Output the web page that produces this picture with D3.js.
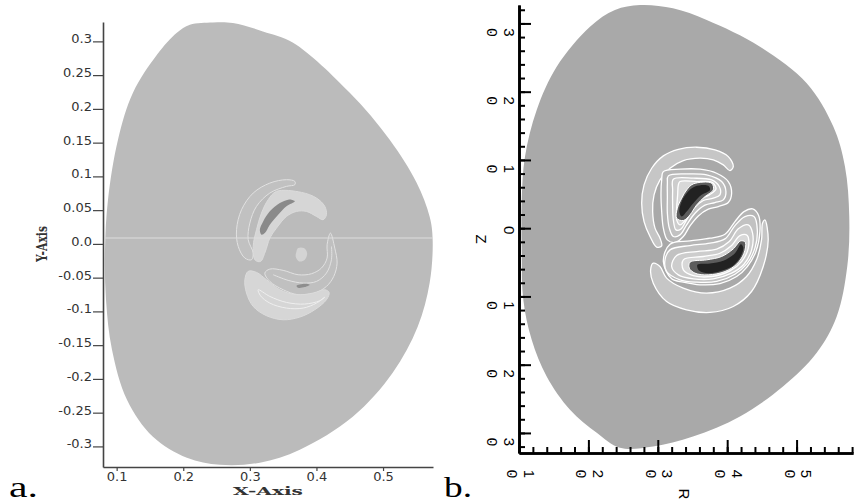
<!DOCTYPE html>
<html><head><meta charset="utf-8">
<script src="https://cdn.jsdelivr.net/npm/d3@7"></script>
<style>body{margin:0;background:#fff}</style></head>
<body>
<svg id="c" width="854" height="504"></svg>
<script>
// ---------- DATA (R/X, Z/Y) ----------
const boundaryA = [[0.2100,0.3247],[0.2445,0.3281],[0.2745,0.3273],[0.3196,0.3148],[0.3649,0.2981],[0.4500,0.2240],[0.5100,0.1544],[0.5504,0.0907],[0.5700,0.0403],[0.5745,0.0062],[0.5700,-0.0575],[0.5520,-0.1227],[0.5145,-0.1908],[0.4545,-0.2560],[0.3750,-0.3049],[0.3150,-0.3241],[0.2550,-0.3271],[0.2055,-0.3167],[0.1545,-0.2856],[0.1155,-0.2307],[0.0930,-0.1567],[0.0840,-0.0826],[0.0825,-0.0086],[0.0870,0.0655],[0.1020,0.1544],[0.1245,0.2240],[0.1605,0.2803],[0.1904,0.3129]];
const boundaryB = [[0.2383,0.3196],[0.2744,0.3269],[0.3219,0.3221],[0.3705,0.3050],[0.4473,0.2659],[0.5146,0.2123],[0.5529,0.1488],[0.5697,0.0902],[0.5759,0.0170],[0.5730,-0.0562],[0.5578,-0.1294],[0.5290,-0.1826],[0.4804,-0.2319],[0.4184,-0.2758],[0.3507,-0.3051],[0.2931,-0.3198],[0.2455,-0.3217],[0.2120,-0.2997],[0.1735,-0.2660],[0.1399,-0.2173],[0.1183,-0.1636],[0.1062,-0.1050],[0.1039,-0.0318],[0.1039,0.0414],[0.1086,0.1048],[0.1255,0.1732],[0.1543,0.2366],[0.2023,0.2952]];

// panel a contour regions
const aOuterC = [[0.3675,0.0926],[0.355,0.0951],[0.330,0.0901],[0.305,0.0753],[0.2875,0.0506],[0.280,0.0210],[0.2825,-0.0037],[0.2925,-0.0210],[0.3025,-0.0235],[0.305,-0.0136],[0.2975,0.0062],[0.300,0.0309],[0.310,0.0556],[0.330,0.0753],[0.355,0.0852],[0.3675,0.0877]];
const aLightUpper = [[0.34,0.0778],[0.3775,0.0763],[0.40,0.0679],[0.4125,0.0556],[0.415,0.0432],[0.41,0.0358],[0.40,0.0407],[0.385,0.0481],[0.37,0.0481],[0.355,0.0407],[0.34,0.0234],[0.33,0.0086],[0.323,-0.012],[0.316,-0.026],[0.308,-0.024],[0.305,-0.0037],[0.31,0.0210],[0.3175,0.0457],[0.3275,0.0654]];
const aDarkBlob = [[0.3625,0.0654],[0.3675,0.0630],[0.355,0.0556],[0.3425,0.0432],[0.33,0.0284],[0.3225,0.0160],[0.3175,0.0136],[0.315,0.0210],[0.32,0.0333],[0.33,0.0482],[0.345,0.0605],[0.3575,0.0654]];
const aSmallBlob = [[0.3725,-0.0062],[0.381,-0.0062],[0.386,-0.0136],[0.3825,-0.0234],[0.374,-0.0259],[0.369,-0.0195],[0.37,-0.0111]];
const aRightArc = [[0.421,0.016],[0.4275,-0.0062],[0.431,-0.0284],[0.426,-0.0481],[0.415,-0.0630],[0.3975,-0.0728],[0.3725,-0.0753],[0.35,-0.0679],[0.33,-0.0556],[0.3225,-0.0432],[0.33,-0.0373],[0.35,-0.0392],[0.3725,-0.0457],[0.3925,-0.0442],[0.4075,-0.0358],[0.416,-0.0210],[0.416,-0.0012]];
const aArcInner = [[0.335,-0.0457],[0.3575,-0.054],[0.38,-0.058],[0.40,-0.0556],[0.415,-0.0432],[0.4225,-0.0234],[0.4225,-0.0037]];
const aTinyBlob = [[0.37,-0.062],[0.3825,-0.059],[0.39,-0.0605],[0.3825,-0.064],[0.3725,-0.065]];
const aLightLower = [[0.2975,-0.0407],[0.31,-0.0422],[0.325,-0.0531],[0.345,-0.0679],[0.37,-0.0753],[0.395,-0.0728],[0.4125,-0.0679],[0.419,-0.0719],[0.415,-0.0827],[0.3975,-0.0975],[0.375,-0.1084],[0.35,-0.1124],[0.325,-0.1064],[0.305,-0.0926],[0.295,-0.0728],[0.2925,-0.0531]];
const aLowerInner = [[0.3125,-0.0679],[0.33,-0.0778],[0.355,-0.0867],[0.3825,-0.0891],[0.405,-0.0842],[0.4125,-0.0788],[0.40,-0.0877],[0.38,-0.0951],[0.355,-0.0951],[0.33,-0.0877],[0.316,-0.0768]];
const aMidLineZ = 0.0087;

// panel b contour regions
const bUpperBand = [[0.4088,0.0903],[0.4016,0.1049],[0.3824,0.1147],[0.356,0.1186],[0.3296,0.1156],[0.308,0.1059],[0.2912,0.0878],[0.2802,0.0634],[0.2768,0.0366],[0.2802,0.0097],[0.2888,-0.0122],[0.2984,-0.0278],[0.3056,-0.0259],[0.3032,-0.0147],[0.296,0.0000],[0.2926,0.0244],[0.2946,0.0488],[0.3032,0.0707],[0.3176,0.0878],[0.3368,0.0990],[0.3608,0.1025],[0.38,0.1000],[0.3944,0.0927],[0.404,0.0844]];
const bUpperL1 = [[0.308,0.0829],[0.332,0.0864],[0.3608,0.0864],[0.3848,0.0805],[0.4016,0.0683],[0.4064,0.0512],[0.4016,0.0376],[0.3872,0.0317],[0.3728,0.0278],[0.3584,0.0180],[0.3464,0.0034],[0.3368,-0.0122],[0.3248,-0.0210],[0.3138,-0.0171],[0.308,0.0000],[0.3056,0.0244],[0.3046,0.0512],[0.3056,0.0707]];
const bUpperL2 = [[0.3152,0.0766],[0.3416,0.0795],[0.3704,0.0781],[0.392,0.0683],[0.3982,0.0537],[0.3944,0.0415],[0.3824,0.0376],[0.368,0.0337],[0.3536,0.0219],[0.3416,0.0049],[0.332,-0.0098],[0.3224,-0.0122],[0.3166,0.0000],[0.3138,0.0219],[0.3138,0.0463],[0.3138,0.0659]];
const bUpperL3 = [[0.3224,0.0717],[0.3512,0.0732],[0.3776,0.0707],[0.3886,0.0610],[0.3896,0.0488],[0.38,0.0439],[0.3656,0.0405],[0.3522,0.0293],[0.3416,0.0122],[0.333,-0.0015],[0.3262,-0.0025],[0.3224,0.0122],[0.3214,0.0341],[0.3214,0.0561]];
const bUpperL4 = [[0.332,0.0683],[0.356,0.0683],[0.379,0.0668],[0.3838,0.0571],[0.3742,0.0488],[0.3608,0.0424],[0.3488,0.0293],[0.3406,0.0132],[0.332,0.0049],[0.3272,0.0122],[0.3272,0.0293],[0.3286,0.0488],[0.3296,0.0634]];
const bUpperHalo = [[0.3512,0.0649],[0.3776,0.0659],[0.38,0.0561],[0.368,0.0463],[0.356,0.0341],[0.3464,0.0195],[0.3368,0.0112],[0.3272,0.0146],[0.3282,0.0293],[0.3344,0.0439],[0.3416,0.0561]];
const bUpperBlob = [[0.3536,0.0610],[0.3728,0.0620],[0.3752,0.0561],[0.3632,0.0488],[0.3512,0.0366],[0.3416,0.0244],[0.3344,0.0171],[0.331,0.0244],[0.3344,0.0390],[0.3416,0.0512]];
const bLowerBand = [[0.4543,0.0122],[0.4591,-0.0171],[0.4519,-0.0562],[0.4351,-0.0928],[0.4087,-0.1147],[0.3751,-0.1235],[0.3415,-0.1196],[0.3127,-0.1074],[0.2935,-0.0806],[0.2897,-0.0610],[0.2935,-0.0513],[0.3031,-0.0562],[0.3127,-0.0732],[0.3367,-0.0879],[0.3703,-0.0952],[0.4039,-0.0879],[0.4279,-0.0708],[0.4423,-0.0464],[0.4495,-0.0171],[0.4509,0.0073]];
const bLowerM1 = [[0.308,-0.0489],[0.3176,-0.0235],[0.3464,-0.0186],[0.3752,-0.0147],[0.3968,-0.0088],[0.4112,0.0097],[0.4242,0.0243],[0.4366,0.0282],[0.4453,0.0185],[0.4472,-0.0049],[0.4414,-0.0342],[0.429,-0.0562],[0.4136,-0.0708],[0.3896,-0.0811],[0.3608,-0.0830],[0.3368,-0.0791],[0.32,-0.0742]];
const bLowerM2 = [[0.3176,-0.0318],[0.3464,-0.0254],[0.3752,-0.0220],[0.3968,-0.0157],[0.4112,0.0038],[0.4256,0.0170],[0.4386,0.0170],[0.4434,-0.0025],[0.44,-0.0293],[0.428,-0.0528],[0.4112,-0.0674],[0.3848,-0.0781],[0.356,-0.0791],[0.332,-0.0757],[0.3128,-0.0635],[0.3104,-0.0464]];
const bLowerM3 = [[0.3272,-0.0401],[0.356,-0.0342],[0.3848,-0.0308],[0.403,-0.0196],[0.416,-0.0010],[0.4304,0.0048],[0.4366,-0.0074],[0.4352,-0.0318],[0.4242,-0.0528],[0.4064,-0.0659],[0.38,-0.0742],[0.3512,-0.0742],[0.3296,-0.0684],[0.32,-0.0562]];
const bLowerM4 = [[0.3368,-0.0464],[0.3656,-0.0415],[0.3896,-0.0367],[0.4064,-0.0254],[0.4184,-0.0108],[0.429,-0.0108],[0.4304,-0.0293],[0.4208,-0.0489],[0.404,-0.0625],[0.3776,-0.0708],[0.3512,-0.0694],[0.3368,-0.0611]];
const bLowerHalo = [[0.3464,-0.0498],[0.3704,-0.0464],[0.392,-0.0415],[0.4088,-0.0303],[0.4194,-0.0186],[0.4261,-0.0206],[0.4242,-0.0367],[0.4136,-0.0528],[0.3968,-0.0635],[0.3728,-0.0684],[0.3536,-0.0659],[0.3454,-0.0586]];
const bLowerBlob = [[0.357,-0.0537],[0.3752,-0.0518],[0.3944,-0.0479],[0.4112,-0.0367],[0.4198,-0.0235],[0.4232,-0.0284],[0.4194,-0.0415],[0.4088,-0.0547],[0.392,-0.0625],[0.3728,-0.0659],[0.3598,-0.0625]];

// ticks
const yTicksA = [0.3,0.25,0.2,0.15,0.1,0.05,0,-0.05,-0.1,-0.15,-0.2,-0.25,-0.3];
const yLabelsA = ["0.3","0.25","0.2","0.15","0.1","0.05","0.0","-0.05","-0.1","-0.15","-0.2","-0.25","-0.3"];
const xTicksA = [0.1,0.2,0.3,0.4,0.5];
const xLabelsA = ["0.1","0.2","0.3","0.4","0.5"];
const yTicksB = [0.3,0.2,0.1,0,-0.1,-0.2,-0.3];
const yLabelsB = ["0.3","0.2","0.1","0","0.1","0.2","0.3"];
const xTicksB = [0.1,0.2,0.3,0.4,0.5];
const xLabelsB = ["0.1","0.2","0.3","0.4","0.5"];

// ---------- DRAW ----------
const svg = d3.select("#c");
const xA = d3.scaleLinear().domain([0.0795,0.575]).range([103,433]);
const yA = d3.scaleLinear().domain([-0.3305,0.3287]).range([467,22]);
const xB = d3.scaleLinear().domain([0.1,0.5813]).range([519,853]);
const yB = d3.scaleLinear().domain([-0.3294,0.3270]).range([453,5]);

function poly(g, pts, sx, sy, fill, stroke, sw){
  g.append("path").datum(pts)
   .attr("d", d3.line().x(d=>sx(d[0])).y(d=>sy(d[1])).curve(d3.curveCatmullRomClosed.alpha(0.5)))
   .attr("fill", fill).attr("stroke", stroke||"none").attr("stroke-width", sw||1);
}
function pline(g, pts, sx, sy, stroke, sw){
  g.append("path").datum(pts)
   .attr("d", d3.line().x(d=>sx(d[0])).y(d=>sy(d[1])).curve(d3.curveCatmullRom.alpha(0.5)))
   .attr("fill","none").attr("stroke", stroke).attr("stroke-width", sw||1);
}

// Panel a
const gA = svg.append("g");
poly(gA, boundaryA, xA, yA, "#bbbbbb");
poly(gA, aOuterC, xA, yA, "#c1c1c1", "#e2e2e2", 1);
poly(gA, aRightArc, xA, yA, "#c0c0c0", "#e2e2e2", 1);
pline(gA, aArcInner, xA, yA, "#e2e2e2", 1);
poly(gA, aTinyBlob, xA, yA, "#8e8e8e");
poly(gA, aLightLower, xA, yA, "#d6d6d6", "#dcdcdc", 1);
poly(gA, aLowerInner, xA, yA, "none", "#efefef", 1);
poly(gA, aLightUpper, xA, yA, "#d6d6d6", "#dcdcdc", 1);
poly(gA, aDarkBlob, xA, yA, "#8a8a8a");
poly(gA, aSmallBlob, xA, yA, "#d4d4d4");
gA.append("line").attr("x1", xA(0.0825)).attr("x2", xA(0.5745))
  .attr("y1", yA(aMidLineZ)).attr("y2", yA(aMidLineZ))
  .attr("stroke","#dedede").attr("stroke-width",1.2);

const axAy = gA.append("g").attr("transform","translate(103,0)")
  .call(d3.axisLeft(yA).tickValues(yTicksA).tickFormat((d,i)=>yLabelsA[i]).tickSize(10).tickSizeOuter(0).tickPadding(1));
const axAx = gA.append("g").attr("transform","translate(0,467)")
  .call(d3.axisBottom(xA).tickValues(xTicksA).tickFormat((d,i)=>xLabelsA[i]).tickSize(4).tickSizeOuter(0).tickPadding(1));
[axAy, axAx].forEach(ax=>{
  ax.select(".domain").attr("stroke","#444").attr("stroke-width",1.6);
  ax.selectAll(".tick line").attr("stroke","#444").attr("stroke-width",1.2);
  ax.selectAll(".tick text").attr("font-family","DejaVu Sans").attr("font-size",13).attr("fill","#333");
});
axAy.selectAll(".tick text").attr("dy","0.12em");
gA.append("text").attr("transform","translate(47,244) rotate(-90)").attr("text-anchor","middle")
  .attr("font-family","DejaVu Serif").attr("font-weight","bold").attr("font-size",15)
  .attr("textLength",36).attr("lengthAdjust","spacingAndGlyphs").attr("fill","#333").text("Y-Axis");
gA.append("text").attr("x",268).attr("y",495).attr("text-anchor","middle")
  .attr("font-family","DejaVu Serif").attr("font-weight","bold").attr("font-size",11)
  .attr("textLength",70).attr("lengthAdjust","spacingAndGlyphs").attr("fill","#333").text("X-Axis");
svg.append("text").attr("x",9).attr("y",497).attr("font-family","Liberation Serif").attr("font-size",30)
  .attr("textLength",29).attr("lengthAdjust","spacingAndGlyphs").attr("fill","#000").text("a.");

// Panel b
const gB = svg.append("g");
poly(gB, boundaryB, xB, yB, "#a9a9a9");
poly(gB, bLowerBand, xB, yB, "#c6c6c6", "#ffffff", 1.3);
poly(gB, bUpperBand, xB, yB, "#c6c6c6", "#ffffff", 1.3);
[[bUpperL1,"#b6b6b6"],[bUpperL2,"#c2c2c2"],[bUpperL3,"#cdcdcd"],[bUpperL4,"#d8d8d8"]].forEach(([p,c])=>poly(gB,p,xB,yB,c,"#ffffff",1.3));
poly(gB, bUpperHalo, xB, yB, "#5c5c5c", "#ffffff", 1);
poly(gB, bUpperBlob, xB, yB, "#222222");
[[bLowerM1,"#b6b6b6"],[bLowerM2,"#c2c2c2"],[bLowerM3,"#cdcdcd"],[bLowerM4,"#d8d8d8"]].forEach(([p,c])=>poly(gB,p,xB,yB,c,"#ffffff",1.3));
poly(gB, bLowerHalo, xB, yB, "#5c5c5c", "#ffffff", 1);
poly(gB, bLowerBlob, xB, yB, "#222222");

const minorY = d3.range(-0.32, 0.3201, 0.02);
const minorX = d3.range(0.1, 0.5801, 0.02);
const axBy = gB.append("g").attr("transform","translate(519,0)");
axBy.call(d3.axisLeft(yB).tickValues(minorY).tickFormat("").tickSize(-6).tickSizeOuter(0));
axBy.append("g").call(d3.axisLeft(yB).tickValues(yTicksB).tickFormat("").tickSize(-12).tickSizeOuter(0));
const axBx = gB.append("g").attr("transform","translate(0,453)");
axBx.call(d3.axisBottom(xB).tickValues(minorX).tickFormat("").tickSize(-6).tickSizeOuter(0));
axBx.append("g").call(d3.axisBottom(xB).tickValues(xTicksB).tickFormat("").tickSize(-13).tickSizeOuter(0));
[axBy, axBx].forEach(ax=>{
  ax.selectAll(".domain").attr("stroke","#000").attr("stroke-width",2.6);
  ax.selectAll(".tick line").attr("stroke","#000").attr("stroke-width",2);
});

// labels drawn with each glyph turned a quarter turn, as in the reference
function rotLabel(left, cy, s){
  const g = gB.append("g").attr("class","rlabel");
  const offs = s.length === 1 ? [6] : [5.5, 8.5, 22];
  s.split("").forEach((ch,i)=>{
    g.append("text").attr("transform",`translate(${left+offs[i]},${cy}) rotate(90)`)
      .attr("text-anchor","middle").attr("dominant-baseline","central")
      .attr("font-family","Liberation Sans").attr("font-size",15).attr("fill","#000").text(ch);
  });
}
yTicksB.forEach((v,i)=>{
  const s = yLabelsB[i];
  if (s.length === 1) rotLabel(503, yB(v)+2, s);
  else rotLabel(487, yB(v)+9, s);
});
xTicksB.forEach((v,i)=>rotLabel(xB(v)+2-14, 474, xLabelsB[i]));
rotLabel(475.5, 239, "Z");
rotLabel(678, 494, "R");
svg.append("text").attr("x",444).attr("y",497).attr("font-family","Liberation Serif").attr("font-size",30)
  .attr("textLength",28).attr("lengthAdjust","spacingAndGlyphs").attr("fill","#000").text("b.");
</script>
</body></html>
